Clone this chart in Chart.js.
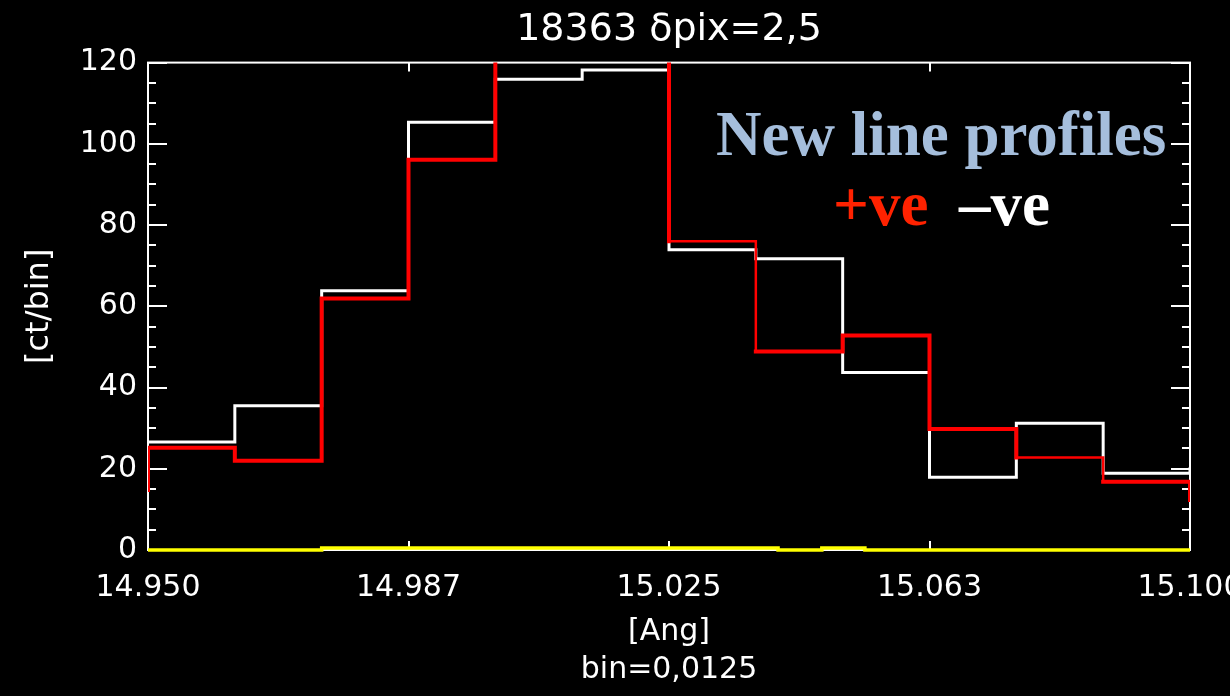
<!DOCTYPE html>
<html>
<head>
<meta charset="utf-8">
<script src="https://cdn.jsdelivr.net/npm/chart.js@4.4.1/dist/chart.umd.min.js"></script>
<style>
  html, body { margin: 0; padding: 0; background: #000; }
  #wrap { width: 1230px; height: 696px; }
</style>
</head>
<body>
<div id="wrap"><canvas id="c" width="1230" height="696"></canvas></div>
<script>
// Wavelength bins (Angstrom), bin width 0.0125
const binStart = [14.9500, 14.9625, 14.9750, 14.9875, 15.0000, 15.0125,
                  15.0250, 15.0375, 15.0500, 15.0625, 15.0750, 15.0875];
const binEnd = 15.1000;

// Counts per bin for the two orders (values above 120 run off the top of the frame)
const posCounts = [25.2, 22.0, 61.9, 96.1, 126.0, 124.0, 76.0, 48.9, 52.8, 29.8, 22.8, 16.8];
const negCounts = [26.6, 35.5, 63.8, 105.3, 115.9, 118.2, 73.9, 71.7, 43.7, 17.9, 31.2, 18.9];
// Neighbouring bins just outside the plotted window [left, right]
const posOutside = [14.8, 12.3];
const negOutside = [26.6, 20.4];

// Background level along the bottom
const bgEdges = [14.9500, 14.9750, 15.0407, 15.0470, 15.0532, 15.1000];
const bgLevel = [0.0, 0.5, 0.0, 0.5, 0.0];

// Axis ticks
const xTicks = [14.9500, 14.9875, 15.0250, 15.0625, 15.1000];
const xTickLabels = ['14.950', '14.987', '15.025', '15.063', '15.100'];
const yMajorStep = 20;
const yMinorStep = 5;

// Bins where the +ve trace is drawn with a thinner pen
const thinPosBins = [6, 10];

function histPoints(starts, end, vals, outside) {
  const pts = [{ x: starts[0], y: outside[0] }];
  starts.forEach((s, i) => pts.push({ x: s, y: vals[i] }));
  pts.push({ x: end, y: vals[vals.length - 1] });
  pts.push({ x: end, y: outside[1] });
  return pts;
}

function levelPoints(edges, vals) {
  const pts = vals.map((v, i) => ({ x: edges[i], y: v }));
  pts.push({ x: edges[edges.length - 1], y: vals[vals.length - 1] });
  return pts;
}

const FONT = "'DejaVu Sans', sans-serif";
Chart.defaults.font.family = FONT;
Chart.defaults.color = '#ffffff';

// Black page, boxed frame with inward ticks, and the text annotation
const framePlugin = {
  id: 'frame',
  beforeDraw(chart) {
    const { ctx } = chart;
    ctx.save();
    ctx.fillStyle = '#000';
    ctx.fillRect(0, 0, chart.width, chart.height);
    ctx.restore();
  },
  beforeDatasetsDraw(chart) {
    const { ctx, chartArea: a, scales: { x, y } } = chart;
    ctx.save();
    ctx.strokeStyle = '#ffffff';
    ctx.lineWidth = 2;
    ctx.strokeRect(a.left, a.top, a.right - a.left, a.bottom - a.top);
    ctx.beginPath();
    for (let v = y.min; v <= y.max; v += yMinorStep) {
      const py = Math.round(y.getPixelForValue(v));
      const len = v % yMajorStep === 0 ? 19 : 8;
      ctx.moveTo(a.left, py);  ctx.lineTo(a.left + len, py);
      ctx.moveTo(a.right, py); ctx.lineTo(a.right - len, py);
    }
    xTicks.forEach(v => {
      const px = Math.round(x.getPixelForValue(v));
      ctx.moveTo(px, a.bottom); ctx.lineTo(px, a.bottom - 9);
      ctx.moveTo(px, a.top);    ctx.lineTo(px, a.top + 9);
    });
    ctx.stroke();
    ctx.restore();
  },
  afterDraw(chart) {
    const { ctx } = chart;
    ctx.save();
    ctx.textBaseline = 'alphabetic';
    ctx.textAlign = 'left';
    ctx.font = "bold 63px 'Liberation Serif', serif";
    ctx.fillStyle = '#a5bedc';
    ctx.fillText('New line profiles', 716, 155);
    ctx.fillStyle = '#ff2200';
    ctx.fillText('+ve', 833, 225);
    ctx.fillStyle = '#ffffff';
    ctx.fillText('\u2013ve', 959, 225);
    ctx.restore();
  }
};

new Chart(document.getElementById('c'), {
  type: 'line',
  data: {
    datasets: [
      {
        label: '+ve',
        data: histPoints(binStart, binEnd, posCounts, posOutside),
        borderColor: '#ff0000',
        borderWidth: 4,
        stepped: 'before',
        pointRadius: 0,
        borderJoinStyle: 'miter',
        borderCapStyle: 'square',
        order: 0,
        segment: {
          borderWidth: ctx => thinPosBins.includes(ctx.p0DataIndex - 1) ? 2.5 : 4
        }
      },
      {
        label: '-ve',
        data: histPoints(binStart, binEnd, negCounts, negOutside),
        borderColor: '#ffffff',
        borderWidth: 3,
        stepped: 'before',
        pointRadius: 0,
        borderJoinStyle: 'miter',
        order: 1
      },
      {
        label: 'background',
        data: levelPoints(bgEdges, bgLevel),
        borderColor: '#ffff00',
        borderWidth: 3.5,
        stepped: 'before',
        pointRadius: 0,
        clip: 6,
        order: 2
      }
    ]
  },
  options: {
    responsive: false,
    animation: false,
    events: [],
    layout: { padding: { top: 0, left: 0, right: 40, bottom: 0 } },
    plugins: {
      legend: { display: false },
      tooltip: { enabled: false },
      title: {
        display: true,
        fullSize: false,
        text: '18363 \u03b4pix=2,5',
        color: '#ffffff',
        font: { family: FONT, size: 38, weight: 'normal' },
        padding: { top: 7, bottom: 10 }
      }
    },
    scales: {
      x: {
        type: 'linear',
        min: binStart[0],
        max: binEnd,
        grid: { display: false, drawTicks: false },
        border: { display: false },
        afterBuildTicks: s => { s.ticks = xTicks.map(v => ({ value: v })); },
        ticks: {
          autoSkip: false,
          maxRotation: 0,
          color: '#ffffff',
          font: { size: 30 },
          padding: 20,
          callback: (v, i) => xTickLabels[i]
        },
        title: {
          display: true,
          text: ['[Ang]', 'bin=0,0125'],
          color: '#ffffff',
          font: { size: 30, lineHeight: 1.267 },
          padding: { top: 0, bottom: 7 }
        },
        afterFit: s => { s.height = 146; s.paddingLeft = 0; s.paddingRight = 0; }
      },
      y: {
        min: 0,
        max: 120,
        grid: { display: false, drawTicks: false },
        border: { display: false },
        ticks: {
          stepSize: yMajorStep,
          color: '#ffffff',
          font: { size: 30 },
          padding: 11
        },
        title: {
          display: true,
          text: '[ct/bin]',
          color: '#ffffff',
          font: { size: 32 },
          padding: { top: 20, bottom: 0 }
        },
        afterFit: s => { s.width = 148; s.paddingTop = 0; s.paddingBottom = 0; }
      }
    }
  },
  plugins: [framePlugin]
});
</script>
</body>
</html>
